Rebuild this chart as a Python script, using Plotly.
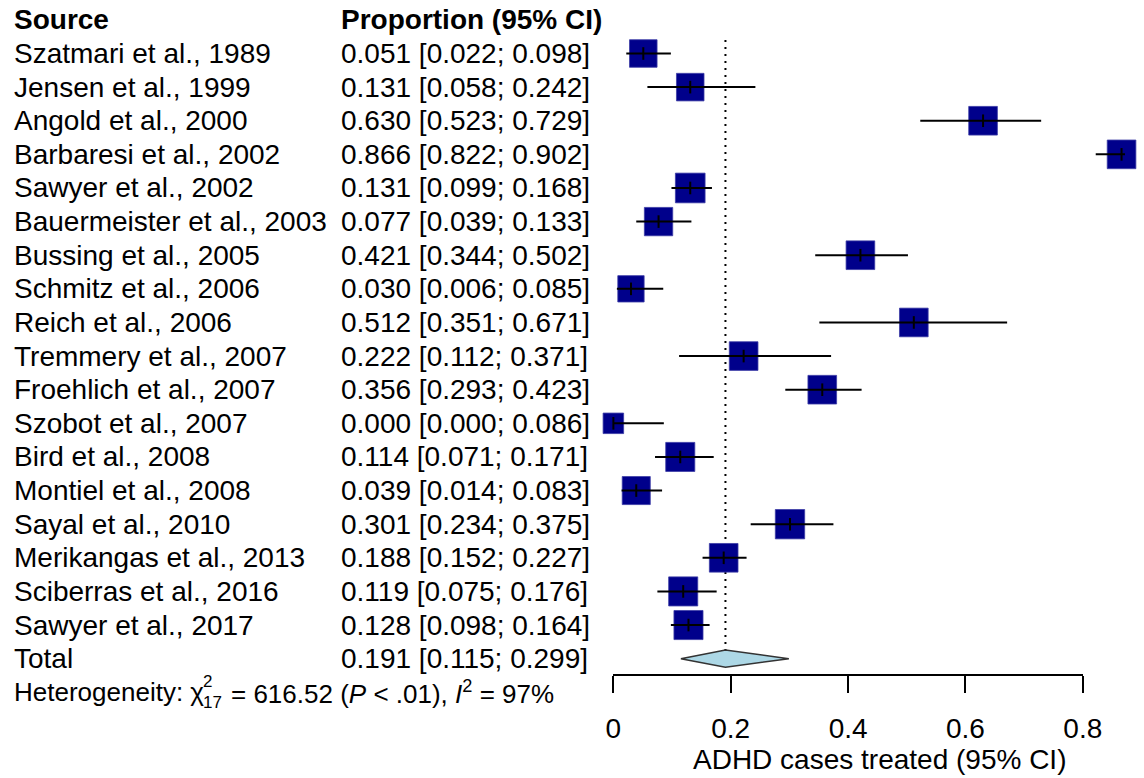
import math
import plotly.graph_objects as go

# ---- data -------------------------------------------------------------
studies = [
    "Szatmari et al., 1989", "Jensen et al., 1999", "Angold et al., 2000",
    "Barbaresi et al., 2002", "Sawyer et al., 2002", "Bauermeister et al., 2003",
    "Bussing et al., 2005", "Schmitz et al., 2006", "Reich et al., 2006",
    "Tremmery et al., 2007", "Froehlich et al., 2007", "Szobot et al., 2007",
    "Bird et al., 2008", "Montiel et al., 2008", "Sayal et al., 2010",
    "Merikangas et al., 2013", "Sciberras et al., 2016", "Sawyer et al., 2017",
]
prop = [0.051, 0.131, 0.630, 0.866, 0.131, 0.077, 0.421, 0.030, 0.512,
        0.222, 0.356, 0.000, 0.114, 0.039, 0.301, 0.188, 0.119, 0.128]
ci_low = [0.022, 0.058, 0.523, 0.822, 0.099, 0.039, 0.344, 0.006, 0.351,
          0.112, 0.293, 0.000, 0.071, 0.014, 0.234, 0.152, 0.075, 0.098]
ci_high = [0.098, 0.242, 0.729, 0.902, 0.168, 0.133, 0.502, 0.085, 0.671,
           0.371, 0.423, 0.086, 0.171, 0.083, 0.375, 0.227, 0.176, 0.164]
# random-effects study weights (%)
weight_pct = [5.36, 5.36, 5.80, 5.80, 6.22, 5.68, 5.80, 4.90, 5.80,
              5.80, 5.80, 2.98, 5.97, 5.56, 6.09, 5.80, 5.97, 5.97]

pooled, pooled_low, pooled_high = 0.191, 0.115, 0.299
het_chi2, het_df, het_p, het_i2 = 616.52, 17, ".01", 97

tick_vals = [0, 0.2, 0.4, 0.6, 0.8]
tick_text = ["0", "0.2", "0.4", "0.6", "0.8"]

# ---- layout geometry (pixels) ------------------------------------------
W, H = 1144, 778
X0_PX, X_SCALE = 620.0, 601.0          # pixel of value 0, pixels per unit
ROW0_PX, ROW_STEP = 53.5, 33.62        # pixel of first study row, row height
COL_SOURCE_PX, COL_EST_PX = 4, 339
AXIS_PX = 675
FONT = "Liberation Sans, Arial, sans-serif"
FS = 28

x_range = [-X0_PX / X_SCALE, (W - X0_PX) / X_SCALE]
y_range = [(H - ROW0_PX) / ROW_STEP, -ROW0_PX / ROW_STEP]

n = len(studies)
rows = list(range(n))
total_row = n
het_row = n + 1


def px(x):
    return x / W


fig = go.Figure()

# reference line at the pooled estimate
fig.add_trace(go.Scatter(
    x=[pooled, pooled], y=[-0.4, n - 0.2], mode="lines",
    line=dict(color="black", width=2, dash="2px,5px"), hoverinfo="skip"))

# study squares, area proportional to weight
fig.add_trace(go.Scatter(
    x=prop, y=rows, mode="markers",
    marker=dict(symbol="square", size=[11.9 * math.sqrt(w) for w in weight_pct],
                color="#00008B", opacity=1,
                line=dict(color="#3c3ca6", width=0.8)),
    hoverinfo="skip", cliponaxis=False))

# confidence intervals
ci_x, ci_y = [], []
for lo, hi, r in zip(ci_low, ci_high, rows):
    ci_x += [lo, hi, None]
    ci_y += [r, r, None]
fig.add_trace(go.Scatter(x=ci_x, y=ci_y, mode="lines",
                         line=dict(color="black", width=2), hoverinfo="skip"))

# point estimates
fig.add_trace(go.Scatter(
    x=prop, y=rows, mode="markers",
    marker=dict(symbol="line-ns", size=9, opacity=1,
                line=dict(color="black", width=2)),
    hoverinfo="skip", cliponaxis=False))

# pooled diamond
half_h = 8.7 / ROW_STEP
fig.add_trace(go.Scatter(
    x=[pooled_low, pooled, pooled_high, pooled, pooled_low],
    y=[total_row, total_row - half_h, total_row, total_row + half_h, total_row],
    mode="lines", fill="toself", fillcolor="#ADD8E6",
    line=dict(color="#333333", width=1.5), hoverinfo="skip"))

# invisible trace carrying the visible x axis
fig.add_trace(go.Scatter(x=tick_vals, y=[total_row] * len(tick_vals),
                         xaxis="x2", yaxis="y", mode="markers",
                         marker=dict(opacity=0), hoverinfo="skip"))

# ---- text columns ------------------------------------------------------
ann = []


def text(x_px, y, s, size=FS, **kw):
    ann.append(dict(x=px(x_px), xref="paper", y=y, yref="y", text=s,
                    showarrow=False, xanchor="left", yanchor="middle",
                    font=dict(family=FONT, size=size, color="black"), **kw))


text(COL_SOURCE_PX, -1, "<b>Source</b>")
text(COL_EST_PX, -1, "<b>Proportion (95% CI)</b>")
for r, name, p, lo, hi in zip(rows, studies, prop, ci_low, ci_high):
    text(COL_SOURCE_PX, r, name)
    text(COL_EST_PX, r, f"{p:.3f} [{lo:.3f}; {hi:.3f}]")
text(COL_SOURCE_PX, total_row, "Total")
text(COL_EST_PX, total_row, f"{pooled:.3f} [{pooled_low:.3f}; {pooled_high:.3f}]")

HFS = 26
text(COL_SOURCE_PX, het_row, "Heterogeneity: χ", size=HFS)
text(198, het_row - 0.32, "2", size=17)
text(198, het_row + 0.3, f"{het_df}", size=17)
text(226, het_row,
     f"= {het_chi2:.2f} (<i>P</i> &lt; {het_p}), <i>I</i><sup>2</sup> = {het_i2}%",
     size=HFS)

# axis title
ann.append(dict(x=px(893), xref="paper", y=1 - 759 / H, yref="paper",
                text="ADHD cases treated (95% CI)", showarrow=False,
                xanchor="center", yanchor="middle",
                font=dict(family=FONT, size=FS, color="black")))

fig.update_layout(
    width=W, height=H,
    margin=dict(l=0, r=0, t=0, b=0),
    paper_bgcolor="white", plot_bgcolor="rgba(0,0,0,0)",
    showlegend=False,
    xaxis=dict(domain=[0, 1], range=x_range, visible=False),
    xaxis2=dict(domain=[px(X0_PX), px(X0_PX + 0.8 * X_SCALE)], range=[0, 0.8],
                anchor="free", position=1 - AXIS_PX / H,
                showline=True, linecolor="black", linewidth=2,
                ticks="outside", ticklen=17, tickwidth=2, tickcolor="black",
                tickvals=tick_vals, ticktext=tick_text,
                tickfont=dict(family=FONT, size=FS, color="black"),
                ticklabelstandoff=11,
                showgrid=False, zeroline=False, fixedrange=True),
    yaxis=dict(domain=[0, 1], range=y_range, visible=False),
    annotations=ann,
    font=dict(family=FONT),
)

fig.write_html("out.html")
